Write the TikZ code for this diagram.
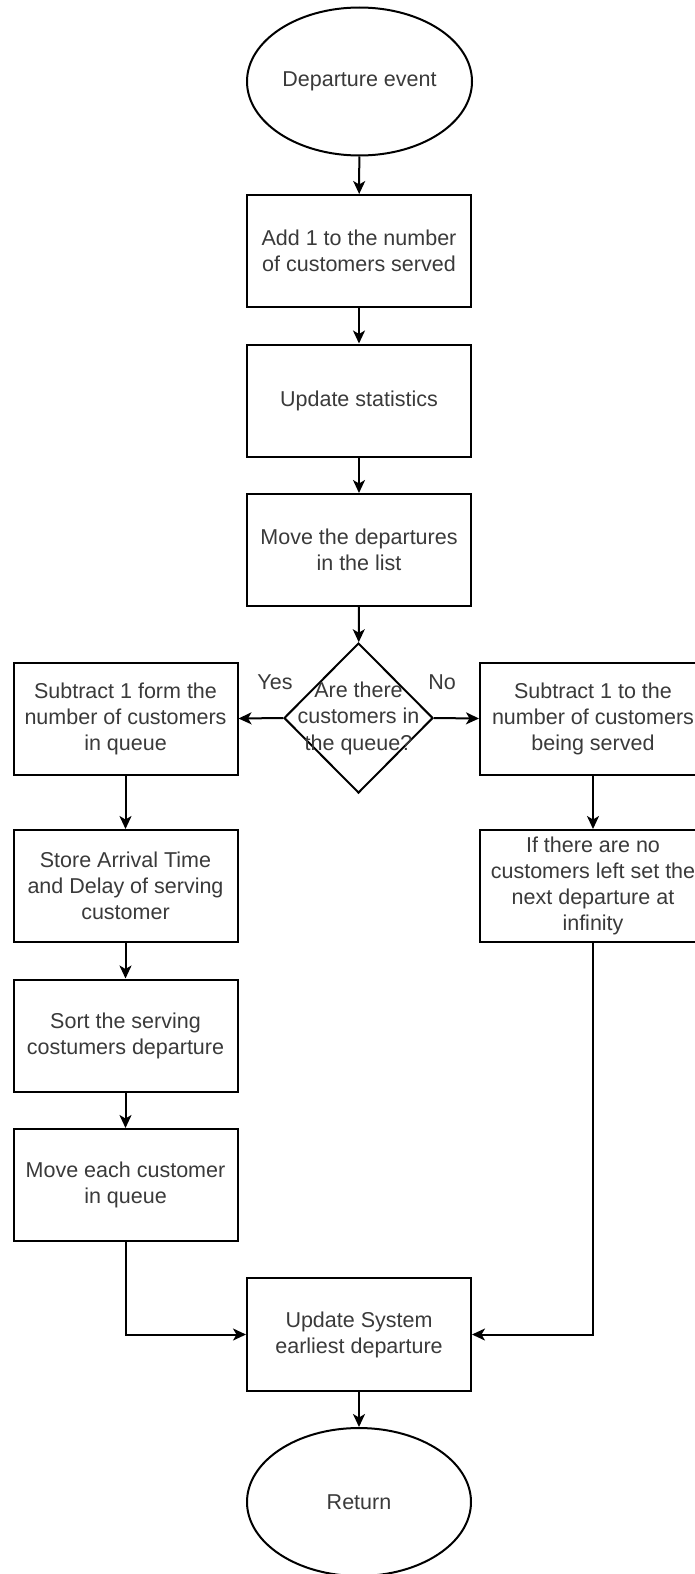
\documentclass[tikz,border=0pt]{standalone}
\usepackage{fontspec}
\setmainfont{Liberation Sans}
\usetikzlibrary{shapes.geometric,arrows.meta}
\definecolor{txt}{HTML}{3A3A3A}
\tikzset{
  base/.style={draw=black, line width=2pt, text=txt, align=center, inner sep=0pt,
    font=\fontsize{21.5}{26}\selectfont},
  procbox/.style={base, rectangle, minimum width=224pt, minimum height=112pt},
  terminal/.style={base, ellipse, minimum width=225pt, minimum height=148pt},
  decision/.style={base, diamond, minimum width=149pt, minimum height=150pt},
  flow/.style={line width=2pt, -{Stealth[length=13pt,width=12pt,inset=3.5pt]}},
  branchlabel/.style={text=txt, font=\fontsize{21.5}{26}\selectfont, inner sep=0pt}
}
\begin{document}
\begin{tikzpicture}[x=1pt, y=-1pt]
  \clip (0,0) rectangle (695,1574);
  \fill[white] (0,0) rectangle (695,1574);

  % main column
  \node[terminal] (start) at (359.5,81.5) {Departure event};
  \node[procbox] (served) at (359,251) {Add 1 to the number\\of customers served};
  \node[procbox] (stats) at (359,400.5) {Update statistics};
  \node[procbox] (movedep) at (359,550) {Move the departures\\in the list};
  \node[decision] (queue) at (358.5,718) {};
  \node[text=txt, align=center, font=\fontsize{21.5}{26.5}\selectfont, inner sep=0pt]
    (queuetxt) at (358.5,718) {Are there\\customers in\\the queue?};

  % "yes" branch
  \node[procbox] (subq) at (125.5,718.5) {Subtract 1 form the\\number of customers\\in queue};
  \node[procbox] (store) at (125.5,886) {Store Arrival Time\\and Delay of serving\\customer};
  \node[procbox] (sort) at (125.5,1035.5) {Sort the serving\\costumers departure};
  \node[procbox] (moveq) at (125.5,1185) {Move each customer\\in queue};

  % "no" branch
  \node[procbox, minimum width=226pt] (subs) at (593,718.5) {Subtract 1 to the\\number of customers\\being served};
  \node[procbox, minimum width=226pt] (inf) at (593,886) {If there are no\\customers left set the\\next departure at\\infinity};

  % merge and end
  \node[procbox, minimum height=113pt] (earliest) at (359,1334.5) {Update System\\earliest departure};
  \node[terminal, minimum width=224pt] (ret) at (359,1502) {Return};

  % connectors
  \draw[flow] (start) -- (served);
  \draw[flow] (served) -- (stats);
  \draw[flow] (stats) -- (movedep);
  \draw[flow] (movedep) -- (queue);
  \draw[flow] (queue.west) -- (subq.east);
  \draw[flow] (queue.east) -- (subs.west);
  \draw[flow] (subq) -- (store);
  \draw[flow] (store) -- (sort);
  \draw[flow] (sort) -- (moveq);
  \draw[flow] (subs) -- (inf);
  \draw[flow] (moveq.south) |- (earliest.west);
  \draw[flow] (inf.south) |- (earliest.east);
  \draw[flow] (earliest) -- (ret);

  \node[branchlabel] (yes) at (275,682) {Yes};
  \node[branchlabel] (no) at (442,682) {No};
\end{tikzpicture}
\end{document}
